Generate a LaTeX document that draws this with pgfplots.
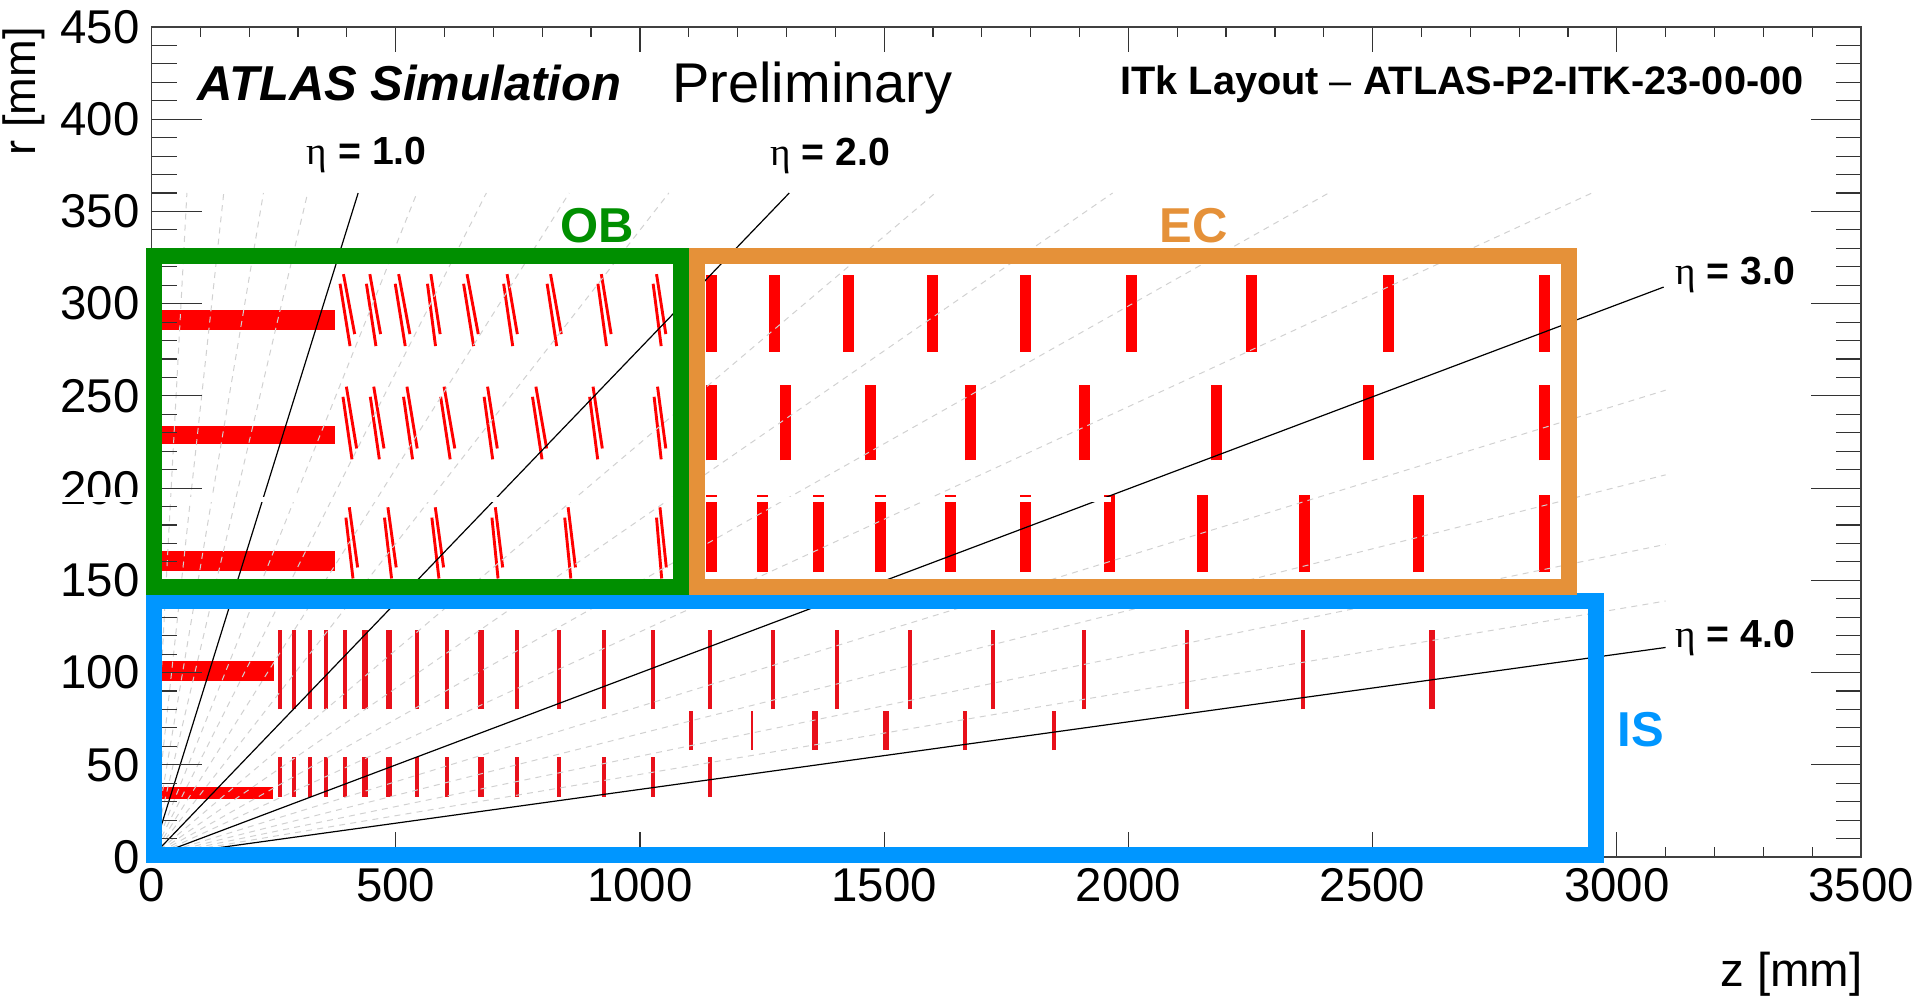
\documentclass[border=0pt]{standalone}
\usepackage{fontspec}
\setmainfont{Liberation Sans}
\newfontfamily\etafont{Liberation Serif}
\usepackage{pgfplots}
\pgfplotsset{compat=1.18}
\definecolor{obgreen}{HTML}{008F00}
\definecolor{ecorange}{HTML}{E59139}
\definecolor{isblue}{HTML}{0096FF}
\definecolor{isred}{HTML}{E8101A}
\newcommand{\etalab}[1]{{\fontsize{19.6}{21}\selectfont{\etafont η}\textbf{ = #1}}}
\pgfplotsset{
  layers/mylayers/.define layer set={axis background,axis grid,pre main,axis ticks,axis lines,axis tick labels,main,axis descriptions,axis foreground}{},
  lowlayer/.style={/pgfplots/on layer=pre main},
}
\begin{document}
\begin{tikzpicture}
\path (0pt,0pt) rectangle (960pt,500pt);
\begin{axis}[
  set layers=mylayers,
  at={(75.75pt,71.5pt)}, anchor=south west,
  scale only axis, width=854.75pt, height=415pt,
  xmin=0, xmax=3500, ymin=0, ymax=450,
  xtick={0,500,...,3500}, ytick={0,50,...,450},
  minor x tick num=4, minor y tick num=4,
  tick align=inside, axis line style={draw=black!75,line width=0.7pt},
  xtick pos=both, ytick pos=both,
  xtick style={draw=black!80,line width=0.6pt,/pgfplots/major tick length=12.5pt,/pgfplots/minor tick length=5pt},
  ytick style={draw=black!80,line width=0.6pt,/pgfplots/major tick length=25pt,/pgfplots/minor tick length=12.5pt},
  /pgf/number format/assume math mode=true,
  /pgf/number format/1000 sep={},
  tick label style={font=\fontsize{23.7}{26}\selectfont,inner sep=0pt},
  xticklabel style={yshift=-5.5pt},
  yticklabel style={xshift=-5.7pt},
  clip=false, unbounded coords=jump,
  no markers,
]
% Barrel strips of OB and IS
\addplot[lowlayer,draw=none,fill=red] coordinates {(0,285.5)(376,285.5)(376,296.8)(0,296.8)} -- cycle;
\addplot[lowlayer,draw=none,fill=red] coordinates {(0,223.8)(376,223.8)(376,233.7)(0,233.7)} -- cycle;
\addplot[lowlayer,draw=none,fill=red] coordinates {(0,155)(376,155)(376,166)(0,166)} -- cycle;
\addplot[lowlayer,draw=none,fill=red] coordinates {(0,95.5)(251,95.5)(251,106.2)(0,106.2)} -- cycle;
\addplot[lowlayer,draw=none,fill=red] coordinates {(0,31.4)(248,31.4)(248,38)(0,38)} -- cycle;
% OB inclined modules, two strands each
\addplot[lowlayer,red,line width=1.45pt] coordinates {
(393,316)(416,283.5)(0,nan)(386,310.8)(406.5,277)(0,nan)
(447,316)(469,283.5)(0,nan)(440,310.8)(459.5,277)(0,nan)
(506,316)(529,283.5)(0,nan)(499,310.8)(519.5,277)(0,nan)
(572,316)(591,283.5)(0,nan)(565,310.8)(581.5,277)(0,nan)
(646,316)(669,283.5)(0,nan)(639,310.8)(659.5,277)(0,nan)
(728,316)(749,283.5)(0,nan)(721,310.8)(739.5,277)(0,nan)
(817,316)(839,283.5)(0,nan)(810,310.8)(829.5,277)(0,nan)
(921,316)(941,283.5)(0,nan)(914,310.8)(931.5,277)(0,nan)
(1034,316)(1053,283.5)(0,nan)(1027,310.8)(1043.5,277)(0,nan)
(399,255)(420,221.5)(0,nan)(392,249.5)(410.5,215.6)(0,nan)
(455,255)(476,221.5)(0,nan)(448,249.5)(466.5,215.6)(0,nan)
(523,255)(544,221.5)(0,nan)(516,249.5)(534.5,215.6)(0,nan)
(599,255)(621,221.5)(0,nan)(592,249.5)(611.5,215.6)(0,nan)
(688,255)(708,221.5)(0,nan)(681,249.5)(698.5,215.6)(0,nan)
(787,255)(809,221.5)(0,nan)(780,249.5)(799.5,215.6)(0,nan)
(904,255)(923,221.5)(0,nan)(897,249.5)(913.5,215.6)(0,nan)
(1036,255)(1053,221.5)(0,nan)(1029,249.5)(1043.5,215.6)(0,nan)
(405,189.6)(422,157)(0,nan)(398,184)(412.5,151)(0,nan)
(484,189.6)(501,157)(0,nan)(477,184)(491.5,151)(0,nan)
(581,189.6)(598,157)(0,nan)(574,184)(588.5,151)(0,nan)
(704,189.6)(719,157)(0,nan)(697,184)(709.5,151)(0,nan)
(853,189.6)(868,157)(0,nan)(846,184)(858.5,151)(0,nan)
(1041,189.6)(1054,157)(0,nan)(1034,184)(1044.5,151)(0,nan)
};
% EC discs
\addplot[lowlayer,red,line width=5.5pt] coordinates {
(1146,274)(1146,315.8)(0,nan)(1276,274)(1276,315.8)(0,nan)(1426,274)(1426,315.8)(0,nan)
(1598,274)(1598,315.8)(0,nan)(1789,274)(1789,315.8)(0,nan)(2007,274)(2007,315.8)(0,nan)
(2252,274)(2252,315.8)(0,nan)(2532,274)(2532,315.8)(0,nan)(2851,274)(2851,315.8)(0,nan)
(1146,215)(1146,255.7)(0,nan)(1298,215)(1298,255.7)(0,nan)(1473,215)(1473,255.7)(0,nan)
(1677,215)(1677,255.7)(0,nan)(1911,215)(1911,255.7)(0,nan)(2180,215)(2180,255.7)(0,nan)
(2491,215)(2491,255.7)(0,nan)(2851,215)(2851,255.7)(0,nan)
(1146,154.4)(1146,196.3)(0,nan)(1250,154.4)(1250,196.3)(0,nan)(1365,154.4)(1365,196.3)(0,nan)
(1492,154.4)(1492,196.3)(0,nan)(1635,154.4)(1635,196.3)(0,nan)(1789,154.4)(1789,196.3)(0,nan)
(1961,154.4)(1961,196.3)(0,nan)(2152,154.4)(2152,196.3)(0,nan)(2360,154.4)(2360,196.3)(0,nan)
(2593,154.4)(2593,196.3)(0,nan)(2851,154.4)(2851,196.3)(0,nan)
};
% IS discs: outer ring, thin
\addplot[lowlayer,isred,line width=2pt] coordinates {
(263.7,80)(263.7,123)(0,nan)(291,80)(291,123)(0,nan)(324,80)(324,123)(0,nan)(358,80)(358,123)(0,nan)
(397,80)(397,123)(0,nan)(544,80)(544,123)(0,nan)(605,80)(605,123)(0,nan)(748,80)(748,123)(0,nan)
(834.4,80)(834.4,123)(0,nan)(926.5,80)(926.5,123)(0,nan)(1026,80)(1026,123)(0,nan)(1143,80)(1143,123)(0,nan)
(1272.5,80)(1272.5,123)(0,nan)(1403,80)(1403,123)(0,nan)(1553,80)(1553,123)(0,nan)(1722,80)(1722,123)(0,nan)
(1909,80)(1909,123)(0,nan)(2120,80)(2120,123)(0,nan)(2357,80)(2357,123)(0,nan)
(263.7,32.7)(263.7,54)(0,nan)(291,32.7)(291,54)(0,nan)(324,32.7)(324,54)(0,nan)(358,32.7)(358,54)(0,nan)
(397,32.7)(397,54)(0,nan)(544,32.7)(544,54)(0,nan)(605,32.7)(605,54)(0,nan)(748,32.7)(748,54)(0,nan)
(834.4,32.7)(834.4,54)(0,nan)(926.5,32.7)(926.5,54)(0,nan)(1026,32.7)(1026,54)(0,nan)(1143,32.7)(1143,54)(0,nan)
(1103.6,58)(1103.6,79)(0,nan)(1666,58)(1666,79)(0,nan)(1847,58)(1847,79)(0,nan)
};
\addplot[lowlayer,isred,line width=1.1pt] coordinates {(1229.6,58)(1229.6,79)};
% IS discs, thicker
\addplot[lowlayer,isred,line width=2.8pt] coordinates {
(437,80)(437,123)(0,nan)(486,80)(486,123)(0,nan)(675,80)(675,123)(0,nan)(2621.5,80)(2621.5,123)(0,nan)
(437,32.7)(437,54)(0,nan)(486,32.7)(486,54)(0,nan)(675,32.7)(675,54)(0,nan)
(1359,58)(1359,79)(0,nan)(1503.6,58)(1503.6,79)
};
% Dashed lines of constant eta, every 0.2
\addplot[lowlayer,color=black!18,line width=0.5pt,dash pattern=on 3pt off 2.6pt] coordinates {
(0,0)(72.5,360)(0,nan)(0,0)(147.9,360)(0,nan)(0,0)(229.2,360)(0,nan)(0,0)(319.7,360)(0,nan)
(0,0)(543.4,360)(0,nan)(0,0)(685.5,360)(0,nan)(0,0)(855.2,360)(0,nan)(0,0)(1059.2,360)(0,nan)
(0,0)(1604.6,360)(0,nan)(0,0)(1967.8,360)(0,nan)(0,0)(2410.1,360)(0,nan)(0,0)(2949.1,360)(0,nan)
(0,0)(3100,253.1)(0,nan)(0,0)(3100,207.2)(0,nan)(0,0)(3100,169.5)(0,nan)(0,0)(3100,138.8)
};
% Solid lines at eta = 1, 2, 3, 4
\addplot[lowlayer,black,line width=0.6pt] coordinates {
(0,0)(423.1,360)(0,nan)(0,0)(1305.7,360)(0,nan)(0,0)(3096,309)(0,nan)(0,0)(3100,113.6)
};
% White seam left in the reference picture
\addplot[white,line width=2.7pt] coordinates {(-187,193.75)(1965,193.75)};
% Region boxes
\addplot[isblue,line width=8pt,line join=miter] coordinates {(4.5,138.9)(2958,138.9)(2958,0.9)(4.5,0.9)} -- cycle;
\addplot[obgreen,line width=8pt,line join=miter] coordinates {(4.7,326)(1083.4,326)(1083.4,146.3)(4.7,146.3)} -- cycle;
\addplot[ecorange,line width=8pt,line join=miter] coordinates {(1117,326)(2902,326)(2902,146.3)(1117,146.3)} -- cycle;
\end{axis}
\begin{scope}[x=0.5pt,y=-0.5pt,yshift=500pt,every node/.style={inner sep=0pt}]
\node[anchor=base west] at (197,100.5) {\fontsize{24.5}{26}\selectfont\bfseries\itshape ATLAS Simulation};
\node[anchor=base west] at (672,102.5) {\fontsize{28}{30}\selectfont Preliminary};
\node[anchor=base west] at (1120,95) {\fontsize{19.85}{22}\selectfont\bfseries ITk Layout {\mdseries –} ATLAS-P2-ITK-23-00-00};
\node[anchor=base west] at (306.5,165) {\etalab{1.0}};
\node[anchor=base west] at (770,166) {\etalab{2.0}};
\node[anchor=base west] at (1675,285) {\etalab{3.0}};
\node[anchor=base west] at (1675,648) {\etalab{4.0}};
\node[anchor=base,text=obgreen] at (597,243) {\fontsize{24.5}{26}\selectfont\bfseries OB};
\node[anchor=base,text=ecorange] at (1194,243) {\fontsize{24.5}{26}\selectfont\bfseries EC};
\node[anchor=base,text=isblue] at (1641,747) {\fontsize{24.5}{26}\selectfont\bfseries IS};
\node[anchor=base east] at (1863,987) {\fontsize{23.7}{26}\selectfont z [mm]};
\node[anchor=base east,rotate=90] at (35,27) {\fontsize{22.6}{26}\selectfont r [mm]};
\end{scope}
\pgfresetboundingbox
\path[use as bounding box] (0pt,0pt) rectangle (960pt,500pt);
\end{tikzpicture}
\end{document}
